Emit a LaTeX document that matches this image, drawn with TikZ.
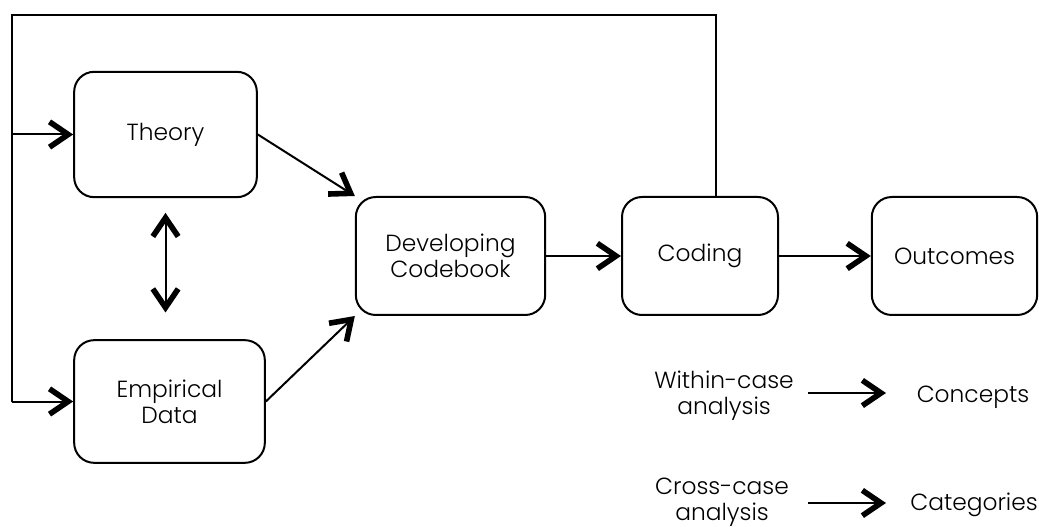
\documentclass[tikz,border=0pt]{standalone}
\usepackage{fontspec}
\IfFontExistsTF{Poppins Light}{\setmainfont{Poppins Light}}{\setmainfont{Poppins}}
\usetikzlibrary{arrows.meta,positioning}

\begin{document}
\begin{tikzpicture}[
      x=0.75pt,y=-0.75pt,
      font=\fontsize{17.5}{19.5}\selectfont,
      block/.style={draw,line width=1.5pt,rounded corners=15pt,align=center,
                    minimum height=88.5pt},
      arrow/.style={-{Straight Barb[length=14pt,width=19pt,line width=4.2pt]},line width=1.5pt},
      twoway/.style={{Straight Barb[length=14pt,width=19pt,line width=4.2pt]}-{Straight Barb[length=14pt,width=19pt,line width=4.2pt]},line width=1.5pt},
      link/.style={line width=1.5pt},
    ]
    \useasboundingbox (0,0) rectangle (1039,527);

    % Main blocks
    \node[block,minimum width=137pt,minimum height=94pt] (theory) at (165.5,134.5) {Theory};
    \node[block,minimum width=143pt,minimum height=92pt] (data) at (169.5,401.5) {Empirical\\Data};
    \node[block,minimum width=142pt] (codebook) at (450.5,256) {Developing\\Codebook};
    \node[block,minimum width=117pt] (coding) at (700,256) {Coding};
    \node[block,minimum width=124pt] (outcomes) at (954.5,256) {Outcomes};

    % Flow arrows
    \draw[arrow] (theory.east) -- (codebook.north west);
    \draw[arrow] (data.east) -- (codebook.south west);
    \draw[arrow] (codebook) -- (coding);
    \draw[arrow] (coding) -- (outcomes);
    \draw[twoway,shorten <=11pt,shorten >=20pt] (theory.south) -- (data.north -| theory.south);

    % Feedback loop back to the inputs
    \coordinate (loop) at (12,15);
    \draw[link] ([xshift=12pt]coding.north) |- (loop) -- (loop |- data.west);
    \draw[arrow] (loop |- theory.west) -- (theory.west);
    \draw[arrow] (loop |- data.west) -- (data.west);

    % Analysis levels
    \node[align=center] (within) at (724,396) {Within-case\\analysis};
    \node (concepts) at (973,397) {Concepts};
    \node[align=center] (cross) at (722,502) {Cross-case\\analysis};
    \node (categories) at (974,505) {Categories};
    \draw[arrow] (808,393) coordinate (w1) -- (886,393) coordinate (w2);
    \draw[arrow] (808,503) coordinate (c1) -- (886,503) coordinate (c2);

  \end{tikzpicture}
\end{document}
